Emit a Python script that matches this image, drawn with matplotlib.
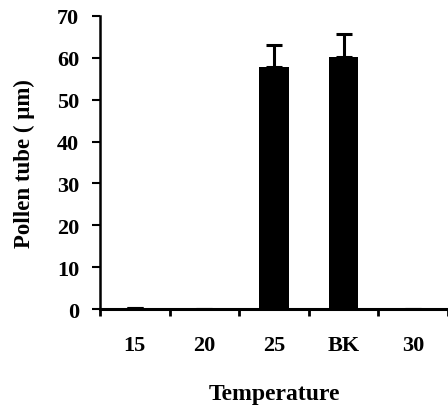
import numpy as np
import matplotlib.pyplot as plt

temps = ['15', '20', '25', 'BK', '30']
tube_len = [0.2, 0.0, 57.8, 60.3, 0.0]
tube_err = [0.0, 0.0, 5.2, 5.5, 0.0]

plt.rcParams['font.family'] = 'Liberation Serif'
plt.rcParams['font.weight'] = 'bold'

fig = plt.figure(figsize=(4.48, 4.14), dpi=100)
ax = fig.add_axes([0.223, 0.251, 0.777, 0.708])

x = np.arange(len(temps))
ax.bar(x, tube_len, width=0.42, color='black', zorder=2)
ax.errorbar(x, tube_len, yerr=[np.zeros(len(x)), tube_err], fmt='none',
            ecolor='black', elinewidth=2.2, capsize=6, capthick=2.2, zorder=3)

ax.set_xlim(-0.5, 4.4)
ax.set_ylim(0, 70)
ax.set_yticks(np.arange(0, 71, 10))
ax.set_xticks(x)
ax.set_xticklabels(temps)
ax.set_xticks(np.arange(-0.5, 4.6, 1), minor=True)
ax.tick_params(axis='x', which='major', length=0, pad=19, labelsize=16)
ax.tick_params(axis='x', which='minor', length=5, width=2, direction='out')
ax.tick_params(axis='y', length=6, width=1.5, labelsize=16, pad=9)

for s in ['top', 'right']:
    ax.spines[s].set_visible(False)
ax.spines['left'].set_linewidth(1.8)
ax.spines['bottom'].set_linewidth(2.2)

ax.set_xlabel('Temperature', fontsize=17, fontweight='bold', labelpad=20)
ax.set_ylabel('Pollen tube ( \u03bcm)', fontsize=16.5, fontweight='bold', labelpad=16)

fig.savefig('out.png', dpi=100)
